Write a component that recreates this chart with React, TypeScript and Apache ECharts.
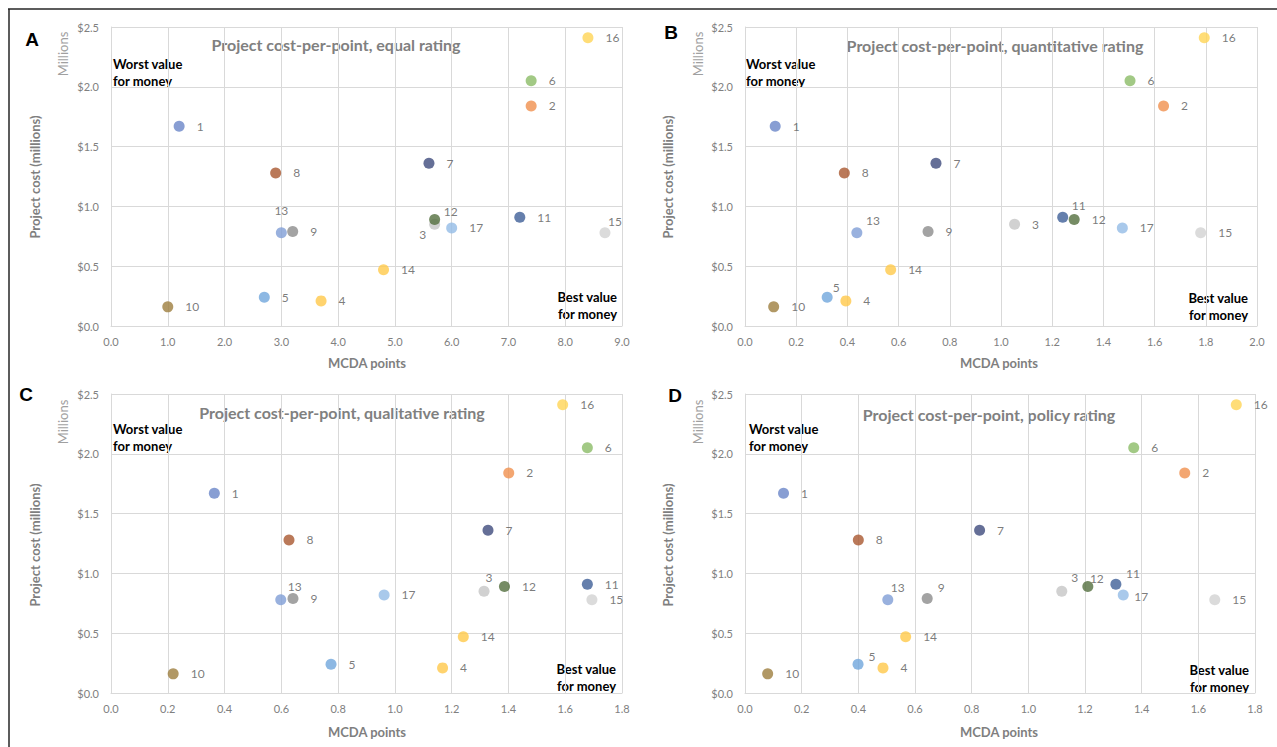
import React, { useEffect, useRef } from "react";
import * as echarts from "echarts";

// ---------- DATA ----------
const projects = ["1", "2", "3", "4", "5", "6", "7", "8", "9", "10", "11", "12", "13", "14", "15", "16", "17"];
const costMillions = [1.67, 1.84, 0.85, 0.21, 0.24, 2.05, 1.36, 1.28, 0.79, 0.16, 0.91, 0.89, 0.78, 0.47, 0.78, 2.41, 0.82];
const pointsEqual = [1.2, 7.4, 5.7, 3.7, 2.7, 7.4, 5.6, 2.9, 3.2, 1.0, 7.2, 5.7, 3.0, 4.8, 8.7, 8.4, 6.0];
const pointsQuantitative = [0.118, 1.635, 1.053, 0.394, 0.321, 1.504, 0.746, 0.388, 0.715, 0.112, 1.241, 1.286, 0.437, 0.569, 1.78, 1.794, 1.474];
const pointsQualitative = [0.364, 1.401, 1.314, 1.168, 0.775, 1.678, 1.328, 0.627, 0.641, 0.219, 1.678, 1.386, 0.598, 1.241, 1.694, 1.591, 0.962];
const pointsPolicy = [0.136, 1.552, 1.118, 0.487, 0.399, 1.372, 0.828, 0.4, 0.643, 0.08, 1.309, 1.21, 0.504, 0.567, 1.658, 1.734, 1.335];
const panelTitles = [
  "Project cost-per-point, equal rating",
  "Project cost-per-point, quantitative rating",
  "Project cost-per-point, qualitative rating",
  "Project cost-per-point, policy rating",
];
const panelLetters = ["A", "B", "C", "D"];
const xMaxes = [9, 2, 1.8, 1.8];
const xIntervals = [1, 0.2, 0.2, 0.2];
const yMax = 2.5;
const yInterval = 0.5;

// ---------- STYLE / LAYOUT ----------
const projectColors = [
  "#6A86C8", "#F0904E", "#C5C5C5", "#FFC84A", "#70A6DC", "#8BBB66", "#3F4B7D", "#A9582F", "#8C8C8C",
  "#9E7E3E", "#3E5F97", "#546F3E", "#7F9ED6", "#FFC94A", "#D2D2D2", "#FFD455", "#93BCE6",
];
const FONT = "Lato, 'Open Sans', sans-serif";
const LABEL_COLOR = "#595959";
const grids = [
  { left: 111, top: 27, width: 511, height: 299 },
  { left: 745, top: 27, width: 512, height: 299 },
  { left: 111, top: 394, width: 511, height: 299 },
  { left: 745, top: 394, width: 510, height: 299 },
];
const panelDeco = [
  { title: [336, 44], letter: [32, 39], millions: [63, 54], yTitle: [35, 177], xTitle: [367, 363], worst: [113, 72], best: [617, 305.5] },
  { title: [995, 45], letter: [671, 32], millions: [698, 54], yTitle: [668, 177], xTitle: [999, 363], worst: [746, 72], best: [1248, 306] },
  { title: [342, 412], letter: [26, 394], millions: [63, 422], yTitle: [35, 545], xTitle: [367, 732], worst: [113, 437.5], best: [616, 677.5] },
  { title: [989, 414], letter: [675, 395], millions: [698, 422], yTitle: [668, 545], xTitle: [999, 732], worst: [749, 437.5], best: [1249, 678.5] },
];
// label offsets (dx, dy from marker centre) for labels not placed to the right
const labelOffsets: Record<string, number[]>[] = [
  { "3": [-12, 10], "12": [16, -8], "13": [0, -22], "15": [10, -11] },
  { "11": [16, -12], "13": [16, -12], "5": [9, -10] },
  { "13": [14, -13], "3": [5, -14] },
  { "3": [13, -14], "12": [9, -8], "11": [17, -11], "13": [10, -12], "9": [14, -11], "5": [14, -8], "17": [18, 2] },
];

export default function App() {
  const ref = useRef<HTMLDivElement>(null);
  useEffect(() => {
    if (!ref.current) return;
    const chart = echarts.init(ref.current, null, { renderer: "svg" });
    const allPoints = [pointsEqual, pointsQuantitative, pointsQualitative, pointsPolicy];

    const xAxis = grids.map((_, i) => ({
      type: "value",
      gridIndex: i,
      min: 0,
      max: xMaxes[i],
      interval: xIntervals[i],
      axisLine: { show: true, lineStyle: { color: "#D9D9D9", width: 1 } },
      axisTick: { show: false },
      splitLine: { show: true, lineStyle: { color: "#D9D9D9", width: 1 } },
      axisLabel: {
        color: "#808080",
        fontSize: 11,
        fontFamily: FONT,
        margin: 10,
        formatter: (v: number) => v.toFixed(1),
      },
    }));
    const yAxis = grids.map((_, i) => ({
      type: "value",
      gridIndex: i,
      min: 0,
      max: yMax,
      interval: yInterval,
      axisLine: { show: true, lineStyle: { color: "#D9D9D9", width: 1 } },
      axisTick: { show: false },
      splitLine: { show: true, lineStyle: { color: "#D9D9D9", width: 1 } },
      axisLabel: {
        color: "#808080",
        fontSize: 11,
        fontFamily: FONT,
        margin: 12,
        formatter: (v: number) => "$" + v.toFixed(1),
      },
    }));

    const series = allPoints.map((pts, i) => ({
      type: "scatter",
      xAxisIndex: i,
      yAxisIndex: i,
      symbol: "circle",
      symbolSize: 11,
      label: {
        show: true,
        position: "right",
        distance: 12,
        formatter: "{b}",
        color: LABEL_COLOR,
        fontSize: 12,
        fontFamily: FONT,
      },
      data: projects.map((p, k) => {
        const off = labelOffsets[i][p];
        const item: any = {
          name: p,
          value: [pts[k], costMillions[k]],
          itemStyle: { color: projectColors[k] },
          label: { color: LABEL_COLOR },
        };
        if (off) {
          item.label = {
            position: "inside",
            offset: off,
            align: "center",
            verticalAlign: "middle",
            color: LABEL_COLOR,
            textBorderWidth: 0,
          };
        }
        return item;
      }),
    }));

    const graphics: any[] = [
      { type: "line", shape: { x1: 8, y1: 9, x2: 1277, y2: 9 }, style: { stroke: "#262626", lineWidth: 1.5 }, z: 10 },
      { type: "line", shape: { x1: 9, y1: 9, x2: 9, y2: 747 }, style: { stroke: "#262626", lineWidth: 1.5 }, z: 10 },
    ];
    panelDeco.forEach((d, i) => {
      graphics.push(
        {
          type: "text", x: d.title[0], y: d.title[1],
          style: { text: panelTitles[i], fill: "#808080", font: `bold 16px ${FONT}`, align: "center", verticalAlign: "middle" },
        },
        {
          type: "text", x: d.letter[0], y: d.letter[1],
          style: { text: panelLetters[i], fill: "#000000", font: `bold 19px 'Liberation Sans', Arial, sans-serif`, align: "center", verticalAlign: "middle" },
        },
        {
          type: "text", x: d.millions[0], y: d.millions[1], rotation: Math.PI / 2,
          style: { text: "Millions", fill: "#A0A0A0", font: `13px ${FONT}`, align: "center", verticalAlign: "middle" },
        },
        {
          type: "text", x: d.yTitle[0], y: d.yTitle[1], rotation: Math.PI / 2,
          style: { text: "Project cost (millions)", fill: "#7F7F7F", font: `bold 13px ${FONT}`, align: "center", verticalAlign: "middle" },
        },
        {
          type: "text", x: d.xTitle[0], y: d.xTitle[1],
          style: { text: "MCDA points", fill: "#7F7F7F", font: `bold 13px ${FONT}`, align: "center", verticalAlign: "middle" },
        },
        {
          type: "text", x: d.worst[0], y: d.worst[1],
          style: { text: "Worst value\nfor money", fill: "#000000", font: `bold 13px ${FONT}`, align: "left", verticalAlign: "middle", lineHeight: 17 },
        },
        {
          type: "text", x: d.best[0], y: d.best[1],
          style: { text: "Best value\nfor money", fill: "#000000", font: `bold 13px ${FONT}`, align: "right", verticalAlign: "middle", lineHeight: 17 },
        }
      );
    });

    chart.setOption({
      animation: false,
      backgroundColor: "#FFFFFF",
      grid: grids.map((g) => ({ ...g, containLabel: false })),
      xAxis,
      yAxis,
      series,
      graphic: graphics,
    });
    return () => chart.dispose();
  }, []);

  return (
    <div
      ref={ref}
      style={{ position: "absolute", left: 0, top: 0, width: 1277, height: 747, background: "#fff" }}
    />
  );
}
